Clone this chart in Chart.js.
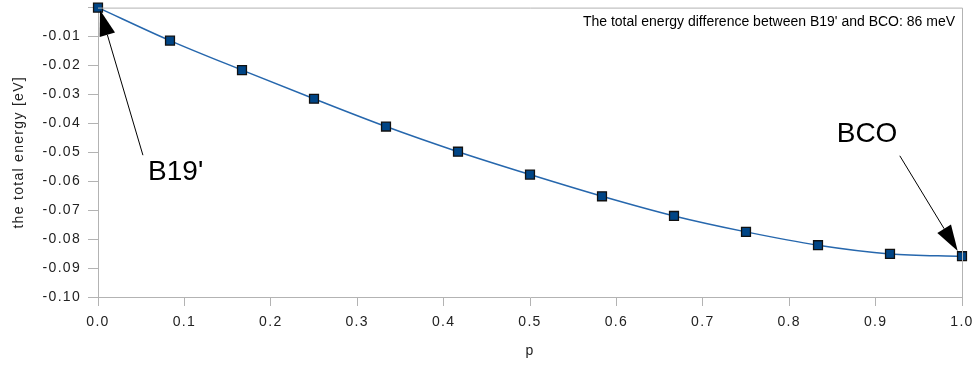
<!DOCTYPE html>
<html>
<head>
<meta charset="utf-8">
<script src="https://cdn.jsdelivr.net/npm/chart.js@4.4.1/dist/chart.umd.min.js"></script>
<style>
  html, body { margin: 0; padding: 0; background: #fff; }
  #wrap { width: 975px; height: 367px; }
</style>
</head>
<body>
<div id="wrap"><canvas id="energyChart" width="975" height="367"></canvas></div>
<script>
// p = k/12 along the transformation path
const pValues = [0, 1/12, 2/12, 3/12, 4/12, 5/12, 6/12, 7/12, 8/12, 9/12, 10/12, 11/12, 1];
const energies = [0, -0.0114, -0.0216, -0.0315, -0.0411, -0.0498, -0.0577, -0.0652, -0.0720, -0.0775, -0.0821, -0.0851, -0.0859];
const yTicks = [0, -0.01, -0.02, -0.03, -0.04, -0.05, -0.06, -0.07, -0.08, -0.09, -0.10];

const noteText = "The total energy difference between B19' and BCO: 86 meV";
// labels with arrows, in data units
const arrowNotes = [
  { text: "B19'", at: [0.058, -0.0568], from: [0.052, -0.0510], to: [0.0023, -0.0008] },
  { text: "BCO", at: [0.855, -0.0438], from: [0.928, -0.0512], to: [0.995, -0.0841] }
];

const axisGray = '#b3b3b3';
const font = "'Liberation Sans', Arial, sans-serif";

const spacingPlugin = {
  id: 'spacing',
  beforeLayout(chart) { chart.ctx.letterSpacing = '1.3px'; },
  beforeDraw(chart) { chart.ctx.letterSpacing = '1.3px'; }
};

const notesPlugin = {
  id: 'notes',
  afterDraw(chart) {
    const { ctx, chartArea, scales: { x, y } } = chart;
    ctx.save();
    ctx.letterSpacing = '0px';
    // plot frame top/right
    ctx.strokeStyle = axisGray;
    ctx.lineWidth = 1;
    ctx.beginPath();
    ctx.moveTo(chartArea.left, chartArea.top + 0.5);
    ctx.lineTo(chartArea.right + 0.5, chartArea.top + 0.5);
    ctx.lineTo(chartArea.right + 0.5, chartArea.bottom);
    ctx.stroke();

    ctx.fillStyle = '#000';
    ctx.font = '14px ' + font;
    ctx.textAlign = 'right';
    ctx.textBaseline = 'middle';
    ctx.fillText(noteText, chartArea.right - 7, chartArea.top + 15);

    arrowNotes.forEach(n => {
      ctx.font = '28px ' + font;
      ctx.textAlign = 'left';
      ctx.textBaseline = 'middle';
      ctx.fillStyle = '#000';
      ctx.fillText(n.text, x.getPixelForValue(n.at[0]), y.getPixelForValue(n.at[1]));

      const x0 = x.getPixelForValue(n.from[0]), y0 = y.getPixelForValue(n.from[1]);
      const x1 = x.getPixelForValue(n.to[0]), y1 = y.getPixelForValue(n.to[1]);
      const ang = Math.atan2(y1 - y0, x1 - x0);
      const headLen = 26, headW = 8;
      const bx = x1 - headLen * Math.cos(ang), by = y1 - headLen * Math.sin(ang);
      ctx.strokeStyle = '#000';
      ctx.lineWidth = 1;
      ctx.beginPath();
      ctx.moveTo(x0, y0);
      ctx.lineTo(bx, by);
      ctx.stroke();
      ctx.beginPath();
      ctx.moveTo(x1, y1);
      ctx.lineTo(bx + headW * Math.sin(ang), by - headW * Math.cos(ang));
      ctx.lineTo(bx - headW * Math.sin(ang), by + headW * Math.cos(ang));
      ctx.closePath();
      ctx.fill();
    });
    ctx.restore();
  }
};

const data = {
  datasets: [{
    data: pValues.map((p, i) => ({ x: p, y: energies[i] })),
    borderColor: '#2667ad',
    borderWidth: 1.5,
    backgroundColor: '#004586',
    pointStyle: 'rect',
    pointRadius: 6.3,
    pointBorderColor: '#111',
    pointBorderWidth: 1.3,
    cubicInterpolationMode: 'monotone',
    clip: false
  }]
};

const options = {
  responsive: false,
  animation: false,
  layout: { padding: { top: 3, right: 13, left: 0, bottom: 0 } },
  plugins: { legend: { display: false }, tooltip: { enabled: false } },
  scales: {
    x: {
      type: 'linear',
      min: 0,
      max: 1,
      afterFit: s => { s.height = 70; s.paddingLeft = 0; s.paddingRight = 0; },
      border: { color: axisGray },
      grid: { drawOnChartArea: false, color: axisGray, tickLength: 9 },
      ticks: {
        stepSize: 0.1,
        padding: 8,
        color: '#222',
        font: { family: font, size: 14 },
        callback: v => v.toFixed(1)
      },
      title: { display: true, text: 'p', color: '#222', font: { family: font, size: 14 }, padding: { top: 0, bottom: 7 } }
    },
    y: {
      min: -0.10,
      max: 0,
      afterFit: s => { s.width = 98; s.paddingTop = 0; s.paddingBottom = 0; },
      afterBuildTicks: s => { s.ticks = yTicks.map(v => ({ value: v })); },
      border: { color: axisGray },
      grid: { drawOnChartArea: false, color: axisGray, tickLength: 10 },
      ticks: {
        padding: 7,
        color: '#222',
        font: { family: font, size: 14 },
        callback: v => (v === 0 ? '' : v.toFixed(2))
      },
      title: { display: true, text: 'the total energy [eV]', color: '#222', font: { family: font, size: 14 }, padding: { top: 11, bottom: 0 } }
    }
  }
};

new Chart(document.getElementById('energyChart'), {
  type: 'line',
  data,
  options,
  plugins: [spacingPlugin, notesPlugin]
});
</script>
</body>
</html>
